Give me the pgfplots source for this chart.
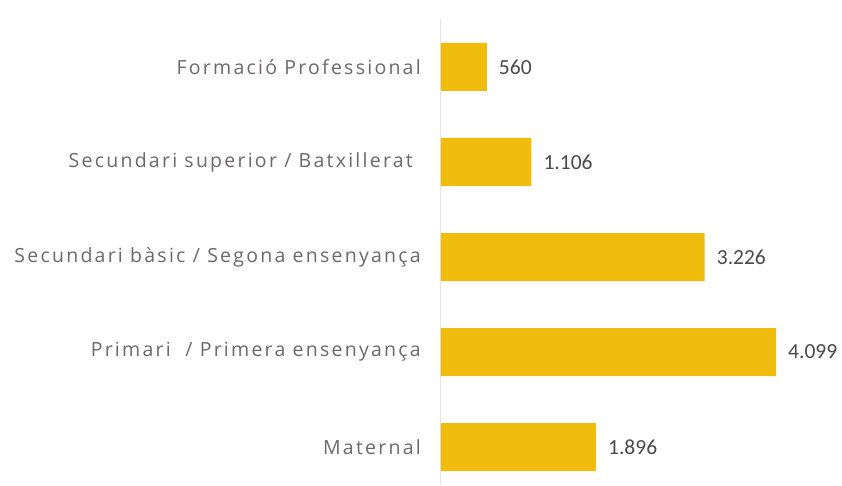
\documentclass[border=0pt]{standalone}
\usepackage{fontspec}
\setmainfont{Carlito}
\newfontfamily\labfont[LetterSpace=11.5]{Open Sans}
\usepackage{pgfplots}
\pgfplotsset{compat=1.18}
\definecolor{barcol}{HTML}{F0BC0E}
\definecolor{labcol}{HTML}{6E6868}
\definecolor{valcol}{HTML}{4A4A4A}
\definecolor{axcol}{HTML}{EAE2E2}
\begin{document}
\begin{tikzpicture}
\begin{axis}[
  at={(0pt,0pt)}, anchor=south west,
  scale only axis, width=400.5pt, height=465.5pt,
  xmin=0, xmax=4900, ymin=-0.4, ymax=4.5,
  axis x line=none,
  axis y line=left,
  axis line style={-, draw=axcol, line width=1pt},
  ytick={0,1,2,3,4},
  yticklabels={Maternal, {Primari\ \ / Primera ensenyança}, {Secundari bàsic / Segona ensenyança}, {Secundari superior / Batxillerat\kern8pt}, {Formació Professional}},
  major tick length=0pt,
  yticklabel style={font=\labfont\fontsize{19.5}{23}\selectfont, text=labcol, anchor=east, inner sep=0pt, xshift=-20pt},
  point meta=x,
  /pgf/number format/assume math mode=true,
  nodes near coords={\pgfmathprintnumber[1000 sep={.}]{\pgfplotspointmeta}},
  nodes near coords style={font=\fontsize{21.5}{25}\selectfont, text=valcol, anchor=west, inner sep=0pt, xshift=12pt},
]
\addplot[xbar, fill=barcol, draw=none, bar width=48pt] coordinates {(1896,0) (4099,1) (3226,2) (1106,3) (560,4)};
\end{axis}
\pgfresetboundingbox
\path[use as bounding box] (-441pt,0pt) rectangle (401pt,485pt);
\end{tikzpicture}
\end{document}
